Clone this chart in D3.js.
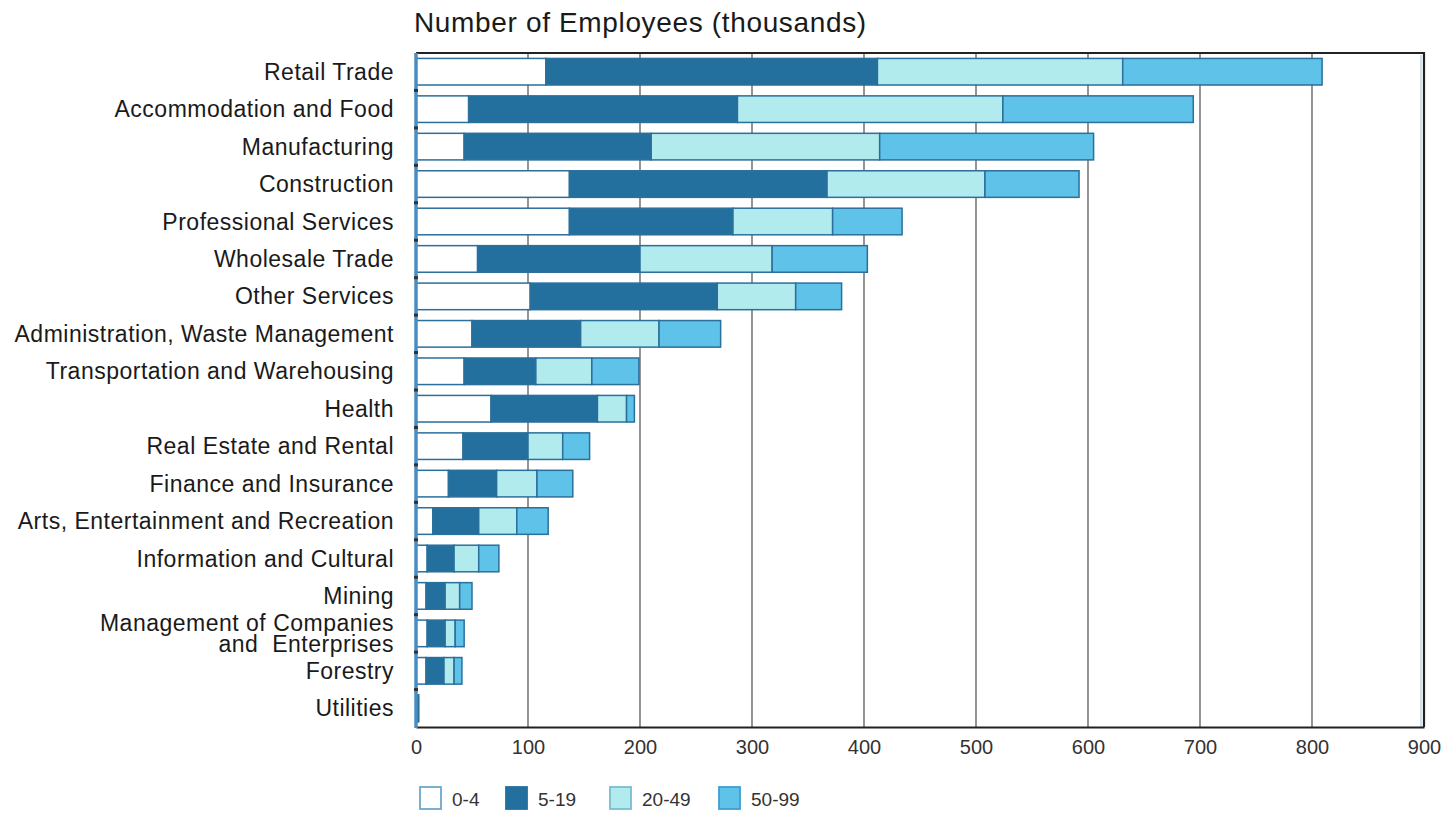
<!DOCTYPE html>
<html>
<head>
<meta charset="utf-8">
<script src="https://cdn.jsdelivr.net/npm/d3@7"></script>
<style>
  html, body { margin: 0; padding: 0; background: #ffffff; }
  svg { display: block; font-family: "Liberation Sans", Arial, Helvetica, sans-serif; }
</style>
</head>
<body>
<svg id="chart" width="1443" height="814"></svg>
<script>
const categories = [
  "Retail Trade", "Accommodation and Food", "Manufacturing", "Construction",
  "Professional Services", "Wholesale Trade", "Other Services",
  "Administration, Waste Management", "Transportation and Warehousing", "Health",
  "Real Estate and Rental", "Finance and Insurance", "Arts, Entertainment and Recreation",
  "Information and Cultural", "Mining", "Management of Companies\nand  Enterprises",
  "Forestry", "Utilities"
];
const seriesNames = ["0-4", "5-19", "20-49", "50-99"];
const s0_4   = [116,  47,  43, 137, 137,  55, 102, 50, 43, 67, 42, 29, 15, 10,  9, 10,  9, 0.5];
const s5_19  = [296, 240, 167, 230, 146, 145, 167, 97, 64, 95, 58, 43, 41, 24, 17, 16, 16, 1];
const s20_49 = [219, 237, 204, 141,  89, 118,  70, 70, 50, 26, 31, 36, 34, 22, 13,  9,  9, 0.5];
const s50_99 = [178, 170, 191,  84,  62,  85,  41, 55, 42,  7, 24, 32, 28, 18, 11,  8,  7, 0.5];
const xTicks = [0, 100, 200, 300, 400, 500, 600, 700, 800, 900];
const titleText = "Number of Employees (thousands)";

const colors = ["#ffffff", "#23709e", "#b1ebee", "#5fc2e8"];
const legendStroke = ["#6ea8cc", "#23709e", "#7bbccf", "#3f9fd0"];

const svg = d3.select("#chart");
const pL = 416, pR = 1424, pT = 53, pB = 727;

const x = d3.scaleLinear().domain([0, 900]).range([pL, pR]);
const y = d3.scaleBand().domain(categories).range([pT, pB]).paddingInner(0.29).paddingOuter(0.145);

// gridlines
svg.append("g").selectAll("line").data(xTicks.filter(t => t > 0 && t < 900)).join("line")
  .attr("x1", d => x(d)).attr("x2", d => x(d))
  .attr("y1", pT).attr("y2", pB)
  .attr("stroke", "#7a7a7a").attr("stroke-width", 1.6);

// stacked bars
const rows = categories.map((c, i) => ({cat: c, "0-4": s0_4[i], "5-19": s5_19[i], "20-49": s20_49[i], "50-99": s50_99[i]}));
const stacked = d3.stack().keys(seriesNames)(rows);

svg.append("g").selectAll("g").data(stacked).join("g")
  .attr("fill", (d, i) => colors[i])
  .selectAll("rect").data(d => d).join("rect")
  .attr("x", d => x(d[0]))
  .attr("y", d => y(d.data.cat))
  .attr("width", d => Math.max(0, x(d[1]) - x(d[0])))
  .attr("height", y.bandwidth())
  .attr("stroke", "#2b6f9b").attr("stroke-width", 1.5);

// frame: top and right borders
svg.append("line").attr("x1", pL).attr("x2", pR + 1).attr("y1", pT).attr("y2", pT)
  .attr("stroke", "#222").attr("stroke-width", 2.2);
svg.append("line").attr("x1", pR).attr("x2", pR).attr("y1", pT).attr("y2", pB)
  .attr("stroke", "#222").attr("stroke-width", 2.2);
svg.append("line").attr("x1", pR - 3).attr("x2", pR - 3).attr("y1", pT + 2).attr("y2", pB)
  .attr("stroke", "#bcd7ea").attr("stroke-width", 1.5);

// bottom axis
const xAxis = d3.axisBottom(x).tickValues(xTicks).tickSize(0).tickPadding(13).tickFormat(d3.format("d"));
const gx = svg.append("g").attr("transform", `translate(0,${pB})`).call(xAxis);
gx.select(".domain").attr("stroke", "#222").attr("stroke-width", 2.2);
gx.selectAll("text").attr("font-size", 20).attr("fill", "#333")
  .attr("font-family", "'Liberation Sans', Arial, sans-serif");

// left axis (blue line) with small ticks
svg.append("line").attr("x1", pL).attr("x2", pL).attr("y1", pT).attr("y2", pB + 1)
  .attr("stroke", "#4a8dc2").attr("stroke-width", 3.5);
const bounds = categories.slice(1).map(c => y(c) - y.step() * y.paddingInner() / 2);
svg.append("g").selectAll("line").data(bounds).join("line")
  .attr("x1", pL - 2).attr("x2", pL + 2)
  .attr("y1", d => d).attr("y2", d => d)
  .attr("stroke", "#333").attr("stroke-width", 3);

// category labels
const lab = svg.append("g").selectAll("text").data(categories).join("text")
  .attr("x", 394)
  .attr("y", d => y(d) + y.bandwidth() / 2)
  .attr("text-anchor", "end")
  .attr("font-size", 23)
  .attr("letter-spacing", 0.5)
  .attr("fill", "#1a1a1a");
lab.each(function(d) {
  const lines = d.split("\n");
  const t = d3.select(this);
  lines.forEach((ln, k) => {
    t.append("tspan").attr("x", 394)
      .attr("dy", k === 0 ? (0.35 - (lines.length - 1) * 0.46) + "em" : "0.92em")
      .style("white-space", "pre")
      .text(ln);
  });
});

// title
svg.append("text").attr("x", 414).attr("y", 32)
  .attr("font-size", 28).attr("letter-spacing", 0.65).attr("fill", "#1a1a1a")
  .text(titleText);

// legend
const legX = [420, 506, 610, 719];
const lg = svg.append("g").selectAll("g").data(seriesNames).join("g")
  .attr("transform", (d, i) => `translate(${legX[i]},787)`);
lg.append("rect").attr("width", 21).attr("height", 22)
  .attr("fill", (d, i) => colors[i]).attr("stroke", (d, i) => legendStroke[i]).attr("stroke-width", 1.8);
lg.append("text").attr("x", 32).attr("y", 19).attr("font-size", 19).attr("fill", "#333").text(d => d);
</script>
</body>
</html>
